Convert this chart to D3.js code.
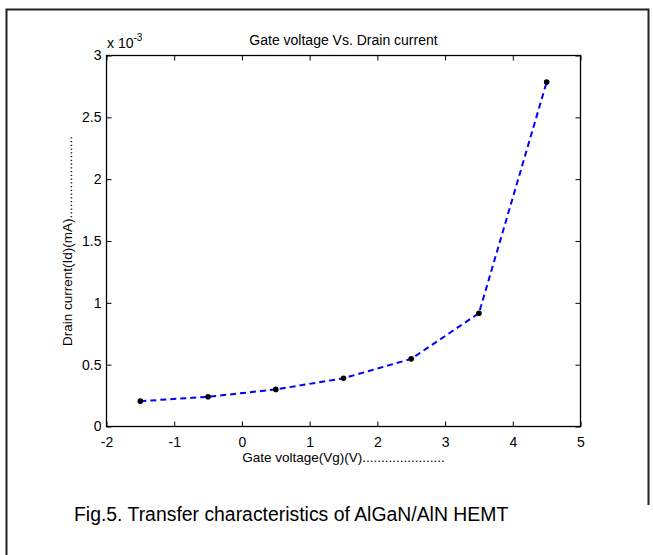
<!DOCTYPE html>
<html>
<head>
<meta charset="utf-8">
<script src="https://cdn.jsdelivr.net/npm/d3@7"></script>
<style>
  body { margin: 0; background: #fff; }
  svg { display: block; font-family: "Liberation Sans", Arial, sans-serif; }
  .tick text { font-size: 14px; font-family: "Liberation Sans", Arial, sans-serif; fill: #000; }
</style>
</head>
<body>
<svg id="chart"></svg>
<script>
// gate voltage (V) and drain current (x 1e-3)
const gateVoltage = [-1.5, -0.5, 0.5, 1.5, 2.5, 3.5, 4.5];
const drainCurrent = [0.205, 0.24, 0.30, 0.39, 0.547, 0.916, 2.785];
const xTicks = [-2, -1, 0, 1, 2, 3, 4, 5];
const yTicks = [0, 0.5, 1, 1.5, 2, 2.5, 3];
const yTickLabels = ["0", "0.5", "1", "1.5", "2", "2.5", "3"];

const width = 653, height = 555;
const margin = { left: 106.5, right: 72.5, top: 55.5, bottom: 128.5 };

const svg = d3.select("#chart")
    .attr("width", width)
    .attr("height", height);

// outer frame (left, top, right)
svg.append("path")
    .attr("d", "M6.5,560 V9.5 H648.5 V505")
    .attr("fill", "none")
    .attr("stroke", "#222")
    .attr("stroke-width", 2);

const x = d3.scaleLinear().domain([-2, 5]).range([margin.left, width - margin.right]);
const y = d3.scaleLinear().domain([0, 3]).range([height - margin.bottom, margin.top]);

const g = svg.append("g");

// bottom axis
g.append("g")
    .attr("transform", `translate(0,${y(0)})`)
    .call(d3.axisBottom(x).tickValues(xTicks).tickSize(-5).tickPadding(11).tickFormat(d => String(d)))
    .call(a => a.select(".domain").remove());

// top axis ticks
g.append("g")
    .attr("transform", `translate(0,${y(3)})`)
    .call(d3.axisTop(x).tickValues(xTicks).tickSize(-5).tickFormat(""))
    .call(a => a.select(".domain").remove());

// left axis
g.append("g")
    .attr("transform", `translate(${x(-2)},0)`)
    .call(d3.axisLeft(y).tickValues(yTicks).tickSize(-5).tickPadding(5).tickFormat((d, i) => yTickLabels[i]))
    .call(a => a.select(".domain").remove());

// right axis ticks
g.append("g")
    .attr("transform", `translate(${x(5)},0)`)
    .call(d3.axisRight(y).tickValues(yTicks).tickSize(-5).tickFormat(""))
    .call(a => a.select(".domain").remove());

g.selectAll(".tick line").attr("stroke", "#000");

// plot box
g.append("rect")
    .attr("x", x(-2))
    .attr("y", y(3))
    .attr("width", x(5) - x(-2))
    .attr("height", y(0) - y(3))
    .attr("fill", "none")
    .attr("stroke", "#000")
    .attr("stroke-width", 1.3);

// data line
const line = d3.line()
    .x((d, i) => x(gateVoltage[i]))
    .y(d => y(d));

g.append("path")
    .datum(drainCurrent)
    .attr("d", line)
    .attr("fill", "none")
    .attr("stroke", "#0000ff")
    .attr("stroke-width", 2)
    .attr("stroke-dasharray", "6,4");

g.selectAll("circle")
    .data(drainCurrent)
    .join("circle")
    .attr("cx", (d, i) => x(gateVoltage[i]))
    .attr("cy", d => y(d))
    .attr("r", 2.8)
    .attr("fill", "#000");

// exponent label
const expo = svg.append("text")
    .attr("x", 107)
    .attr("y", 48)
    .attr("font-size", 14);
expo.append("tspan").text("x 10");
expo.append("tspan").attr("dy", -7).attr("font-size", 10).text("-3");

// title
svg.append("text")
    .attr("x", (x(-2) + x(5)) / 2)
    .attr("y", 45)
    .attr("text-anchor", "middle")
    .attr("font-size", 14)
    .text("Gate voltage Vs. Drain current");

// axis labels
svg.append("text")
    .attr("x", (x(-2) + x(5)) / 2)
    .attr("y", 462)
    .attr("text-anchor", "middle")
    .attr("font-size", 13.5)
    .text("Gate voltage(Vg)(V)......................");

svg.append("text")
    .attr("transform", `translate(72,${(y(0) + y(3)) / 2}) rotate(-90)`)
    .attr("text-anchor", "middle")
    .attr("font-size", 13.5)
    .text("Drain current(Id)(mA)......................");

// caption
svg.append("text")
    .attr("x", 74)
    .attr("y", 521)
    .attr("font-size", 19.4)
    .text("Fig.5. Transfer characteristics of AlGaN/AlN HEMT");
</script>
</body>
</html>
